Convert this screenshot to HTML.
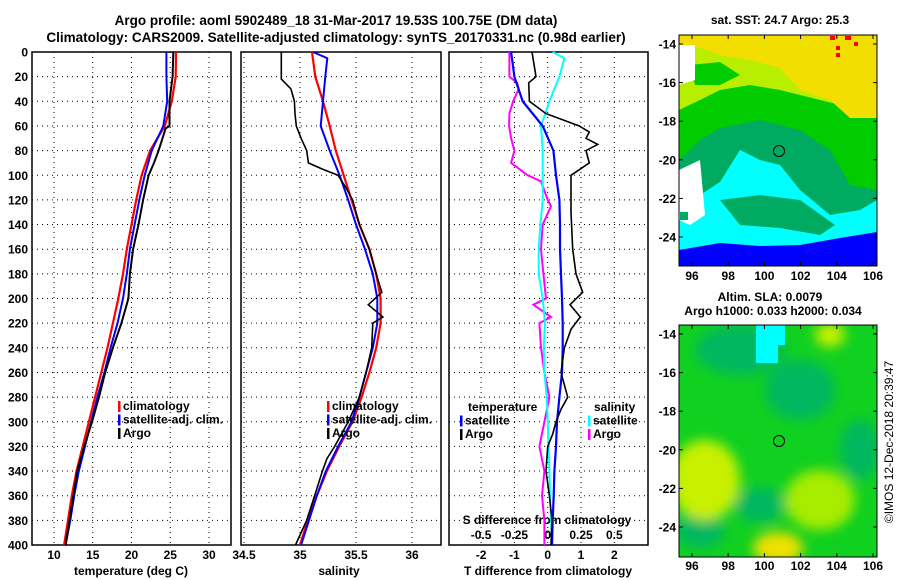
<!DOCTYPE html>
<html><head><meta charset="utf-8"><style>
body{margin:0;background:#fff}
svg{display:block;font-family:"Liberation Sans",sans-serif;font-weight:bold}
</style></head><body>
<svg id="c" width="900" height="580" viewBox="0 0 900 580" xmlns="http://www.w3.org/2000/svg">
<defs>
<filter id="bl" x="0" y="0" width="1" height="1"><feGaussianBlur stdDeviation="6"/></filter>
<clipPath id="cm1"><rect x="679" y="35" width="198" height="231"/></clipPath>
<clipPath id="cm2"><rect x="679" y="325" width="198" height="232"/></clipPath>
</defs>
<text x="336" y="25" font-size="13.5" text-anchor="middle">Argo profile: aoml 5902489_18 31-Mar-2017 19.53S 100.75E (DM data)</text>
<text x="336" y="42" font-size="13.5" text-anchor="middle">Climatology: CARS2009. Satellite-adjusted climatology: synTS_20170331.nc (0.98d earlier)</text>

<g id="maps">
<text x="780" y="24" font-size="12" text-anchor="middle">sat. SST: 24.7 Argo: 25.3</text>
<g clip-path="url(#cm1)">
<rect x="679" y="35" width="198" height="231" fill="#00aa60"/>
<polygon fill="#00cc00" points="679,35 877,35 877,190 850,185 830,150 800,130 760,120 720,128 700,140 679,160"/>
<polygon fill="#b8ee00" points="679,35 877,35 877,110 840,105 800,95 780,90 750,85 720,90 700,100 679,110"/>
<polygon fill="#00cc00" points="690,65 720,62 740,75 720,85 695,85"/>
<polygon fill="#f2de00" points="679,35 877,35 877,118 850,118 830,100 800,90 780,68 750,60 720,55 700,48 679,45"/>
<polygon fill="#00ffff" points="679,266 679,200 700,195 720,182 740,150 760,160 780,165 800,190 830,215 860,210 877,200 877,266"/>
<polygon fill="#00aa60" points="720,200 760,195 800,200 835,225 820,235 780,228 740,225"/>
<polygon fill="#0000ff" points="679,266 679,250 720,243 760,246 800,245 840,238 877,232 877,266"/>
<polygon fill="#ffffff" points="679,45 695,45 695,80 679,85"/>
<polygon fill="#ffffff" points="679,170 700,160 705,215 690,225 679,220"/>
<rect x="680" y="212" width="8" height="8" fill="#00aa60"/>
<rect x="830" y="36" width="5" height="4" fill="#ff0000"/><rect x="845" y="36" width="6" height="4" fill="#ff0000"/><rect x="836" y="46" width="4" height="4" fill="#ff0000"/><rect x="836" y="53" width="4" height="4" fill="#ff0000"/><rect x="854" y="42" width="4" height="4" fill="#ff0000"/>
<circle cx="779" cy="151" r="5.5" fill="none" stroke="#000" stroke-width="1"/>
</g>
<rect x="679" y="35" width="198" height="231" fill="none" stroke="#000"/>

<text x="770" y="301" font-size="12" text-anchor="middle">Altim. SLA: 0.0079</text>
<text x="773" y="315" font-size="12" text-anchor="middle">Argo h1000: 0.033 h2000: 0.034</text>
<g clip-path="url(#cm2)">
<rect x="679" y="325" width="198" height="232" fill="#10d020"/>
<g filter="url(#bl)">
<ellipse cx="740" cy="350" rx="45" ry="25" fill="#00b860"/>
<ellipse cx="800" cy="390" rx="35" ry="30" fill="#00b860"/>
<ellipse cx="860" cy="450" rx="20" ry="30" fill="#00b860"/>
<ellipse cx="760" cy="505" rx="25" ry="18" fill="#00b860"/>
<ellipse cx="700" cy="530" rx="25" ry="18" fill="#00b860"/>
<ellipse cx="705" cy="480" rx="35" ry="40" fill="#c8f000"/>
<ellipse cx="820" cy="500" rx="35" ry="30" fill="#a8ec00"/>
<ellipse cx="778" cy="548" rx="25" ry="16" fill="#f0e000"/>
<ellipse cx="830" cy="335" rx="15" ry="12" fill="#c8f000"/>
</g>
<polygon fill="#00ffff" points="756,325 785,325 785,345 778,345 778,363 756,363"/>
<circle cx="779" cy="441" r="5.5" fill="none" stroke="#000" stroke-width="1"/>
</g>
<rect x="679" y="325" width="198" height="232" fill="none" stroke="#000"/>
<text transform="translate(893,442) rotate(-90)" font-size="12" font-weight="normal" text-anchor="middle">©IMOS 12-Dec-2018 20:39:47</text>
</g>
<g id="plots"></g>
</svg>
<script>
// ---- data ----
const depths = [0,20,40,60,80,100,120,140,160,180,200,220,240,260,280,300,320,340,360,380,400];
const tempClim = [25.74,25.7,25.2,24.3,22.4,21.3,20.6,20.0,19.4,18.9,18.3,17.6,16.9,16.1,15.3,14.5,13.7,12.9,12.3,11.8,11.3];
const tempSat = [24.5,24.5,24.6,24.1,22.6,21.7,21.0,20.4,19.8,19.4,18.9,18.2,17.3,16.5,15.6,14.8,14.0,13.2,12.6,12.1,11.5];
const argoDepths = [0,20,30,40,60,62,70,80,90,100,120,140,160,180,200,220,240,260,280,300,320,340,360,380,400];
const tempArgo = [25.4,25.3,25.1,24.9,24.9,24.4,24.0,23.5,22.9,22.2,21.5,20.9,20.2,19.8,19.6,18.7,17.6,16.6,15.8,14.9,13.9,13.0,12.5,12.0,11.5];
const salClim = [35.107,35.137,35.205,35.265,35.32,35.39,35.46,35.53,35.62,35.68,35.72,35.72,35.68,35.62,35.55,35.47,35.35,35.24,35.15,35.07,35.0];
const salSatDepths = [0,5,20,40,60,80,100,120,140,160,180,200,220,240,260,280,300,320,340,360,380,400];
const salSat = [35.116,35.244,35.226,35.205,35.185,35.265,35.354,35.43,35.5,35.58,35.65,35.69,35.69,35.65,35.59,35.53,35.46,35.34,35.23,35.15,35.08,35.01];
const salArgoDepths = [0,22,30,40,50,60,70,80,90,95,100,110,120,140,160,180,195,205,215,220,240,260,280,300,320,330,340,360,380,400];
const salArgo = [34.833,34.833,34.92,34.95,34.955,34.967,35.01,35.06,35.075,35.2,35.34,35.41,35.47,35.53,35.62,35.68,35.73,35.61,35.74,35.65,35.64,35.59,35.53,35.43,35.31,35.24,35.2,35.13,35.06,34.96];
const dtSat = [-1.1,-1.0,-0.75,-0.15,0.17,0.25,0.35,0.37,0.37,0.4,0.43,0.45,0.45,0.43,0.35,0.28,0.25,0.2,0.18,0.15,0.13];
const dtArgoDepths = [0,20,25,40,50,60,65,70,75,80,90,100,110,130,160,180,195,205,215,225,240,260,280,290,300,310,320,340,360,380,400];
const dtArgo = [-0.47,-0.35,-0.57,-0.55,-0.05,0.95,1.25,1.15,1.5,1.15,1.25,0.7,0.7,0.7,0.75,0.85,1.05,0.67,0.98,0.7,0.5,0.4,0.6,0.4,0.25,0.15,0.0,-0.05,0.05,0.13,0.1];
const dsSat = [0.0375,0.0875,0.0125,-0.05,-0.0375,-0.0375,-0.0375,-0.055,-0.0675,-0.0675,-0.0375,-0.02,-0.03,-0.025,-0.0075,0.0,0.0075,0.0125,0.0175,0.025,0.0325];
const dsSatDepths = [0,5,20,40,60,80,100,120,140,160,180,200,220,240,260,280,300,320,340,360,380,400];
const dsSat2 = [0.0375,0.125,0.0875,0.0125,-0.05,-0.0375,-0.0375,-0.0375,-0.055,-0.0675,-0.0675,-0.0375,-0.02,-0.03,-0.025,-0.0075,0.0,0.0075,0.0125,0.0175,0.025,0.0325];
const dsArgoDepths = [0,20,25,30,40,50,60,70,80,90,100,105,120,125,140,160,180,200,205,215,220,240,260,280,300,320,340,360,380,400];
const dsArgo = [-0.2875,-0.2875,-0.23,-0.2175,-0.26,-0.2875,-0.29,-0.275,-0.25,-0.275,-0.15,-0.05,0.0,0.025,-0.0375,-0.05,-0.0325,-0.0125,-0.1075,0.025,-0.0625,-0.05,-0.025,0.0125,-0.025,-0.0625,-0.025,-0.0425,-0.025,-0.025];
const depthTicks = [0,20,40,60,80,100,120,140,160,180,200,220,240,260,280,300,320,340,360,380,400];
const tempTicks = [10,15,20,25,30];
const salTicks = [34.5,35,35.5,36];
const dtTicks = [-2,-1,0,1,2];
const dsTicks = [-0.5,-0.25,0,0.25,0.5];
const dsTickLabels = ['-0.5','-0.25','0','0.25','0.5'];
const latTicks = [-14,-16,-18,-20,-22,-24];
const lonTicks = [96,98,100,102,104,106];

// ---- axes ----
const NS='http://www.w3.org/2000/svg';
const g=document.getElementById('plots');
const Y0=52,Y1=545;
const yD=d=>Y0+(d/400)*(Y1-Y0);
const xT=t=>54+(t-10)*7.75;
const xS=s=>300+(s-35)*112;
const xDT=t=>547.7+t*33.3;
const xDS=s=>547.7+s*133.2;
function mk(tag,attrs,parent){const e=document.createElementNS(NS,tag);for(const k in attrs)e.setAttribute(k,attrs[k]);(parent||g).appendChild(e);return e;}
function txt(x,y,s,anchor,size){const e=mk('text',{x:x,y:y,'font-size':size||12,'text-anchor':anchor||'middle'});e.textContent=s;return e;}
const panels=[[32,231],[241,441],[449,648]];
panels.forEach((p,i)=>{
  depthTicks.forEach(d=>{
    const l=mk('line',{x1:p[0],x2:p[1],y1:yD(d),y2:yD(d),stroke:'#000','stroke-dasharray':'1,4','stroke-width':1});
    
    
  });
});
function vgrid(ticks,fx,p){ticks.forEach(t=>{const l=mk('line',{x1:fx(t),x2:fx(t),y1:Y0,y2:Y1,stroke:'#000','stroke-dasharray':'1,4'});

});}
vgrid(tempTicks,xT);vgrid(salTicks,xS);vgrid(dtTicks,xDT);
panels.forEach((p,i)=>{const r=mk('rect',{x:p[0],y:Y0,width:p[1]-p[0],height:Y1-Y0,fill:'none',stroke:'#000','stroke-width':1.5});

});
depthTicks.forEach(d=>{const t=txt(28,yD(d)+4.5,String(d),'end');

});
function xlabels(ticks,fx,labels,y){ticks.forEach((t,i)=>{const e=txt(fx(t),y,labels?labels[i]:String(t));

});}
xlabels(tempTicks,xT,null,559);xlabels(salTicks,xS,null,559);xlabels(dtTicks,xDT,null,559);
xlabels(dsTicks,xDS,dsTickLabels,539);
let e;
e=txt(131,575,'temperature (deg C)');
e=txt(339,575,'salinity');
e=txt(548,575,'T difference from climatology');
e=txt(547,524,'S difference from climatology');

function line(xs,ds,fx,color,w,name){
  const pts=xs.map((v,i)=>fx(v).toFixed(1)+','+yD(ds[i]).toFixed(1)).join(' ');
  const l=mk('polyline',{points:pts,fill:'none',stroke:color,'stroke-width':w||2});
  
  
}
line(tempClim,depths,xT,'#ff0000',2.2,'temp-climatology-line');
line(tempSat,depths,xT,'#0000ff',2,'temp-satellite-line');
line(tempArgo,argoDepths,xT,'#000',2,'temp-argo-line');
line(salClim,depths,xS,'#ff0000',2.2,'sal-climatology-line');
line(salSat,salSatDepths,xS,'#0000ff',2,'sal-satellite-line');
line(salArgo,salArgoDepths,xS,'#000',1.6,'sal-argo-line');
line(dsArgo,dsArgoDepths,xDS,'#ff00ff',2,'s-diff-argo-line');
line(dsSat2,dsSatDepths,xDS,'#00ffff',2,'s-diff-satellite-line');
line(dtSat,depths,xDT,'#0000ff',2.2,'t-diff-satellite-line');
line(dtArgo,dtArgoDepths,xDT,'#000',1.6,'t-diff-argo-line');

function legend(x,y,items,nm){items.forEach((it,i)=>{
  const yy=y+i*13.5;
  const r=mk('rect',{x:x,y:yy-9,width:2.5,height:11,fill:it[1]});
  
  
  const t=txt(x+5,yy,it[0],'start');
  
  
});}
legend(118,410,[['climatology','#ff0000'],['satellite-adj. clim.','#0000ff'],['Argo','#000']],'temp-legend');
legend(327,410,[['climatology','#ff0000'],['satellite-adj. clim.','#0000ff'],['Argo','#000']],'sal-legend');
e=txt(468,411,'temperature','start');
e=txt(594,411,'salinity','start');
legend(460,424.5,[['satellite','#0000ff'],['Argo','#000']],'diff-legend-temp');
legend(588,424.5,[['satellite','#00ffff'],['Argo','#ff00ff']],'diff-legend-sal');

// map ticks
const svg=document.getElementById('c');
const maps=[{top:35,bot:266,lat0:44,lab:280},{top:325,bot:557,lat0:334,lab:570}];
maps.forEach((m,mi)=>{
  latTicks.forEach((la,i)=>{
    const y=m.lat0+i*38.6;
    mk('line',{x1:679,x2:683,y1:y,y2:y,stroke:'#000'},svg);
    mk('line',{x1:873,x2:877,y1:y,y2:y,stroke:'#000'},svg);
    const t=txt(676,y+4.5,String(la),'end');svg.appendChild(t);
    
    
  });
  lonTicks.forEach((lo,i)=>{
    const x=692+i*36.2;
    mk('line',{x1:x,x2:x,y1:m.bot-4,y2:m.bot,stroke:'#000'},svg);
    mk('line',{x1:x,x2:x,y1:m.top,y2:m.top+4,stroke:'#000'},svg);
    const t=txt(x,m.lab,String(lo));svg.appendChild(t);
    
    
  });
});
</script>
</body></html>
